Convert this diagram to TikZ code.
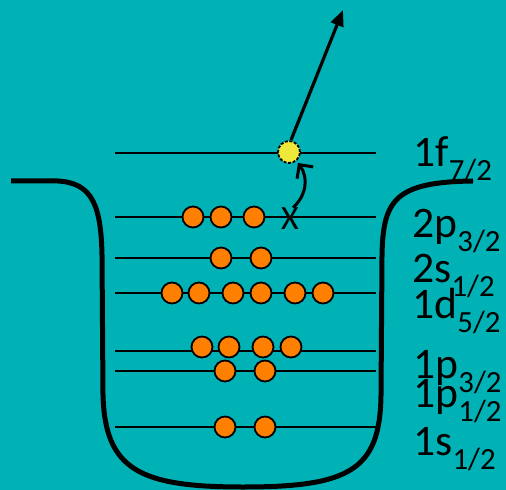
\documentclass[tikz,border=0pt]{standalone}
\usepackage{fontspec}
\setmainfont{Carlito}
\usetikzlibrary{arrows.meta}
\definecolor{bgteal}{RGB}{0,178,181}
\definecolor{orb}{RGB}{255,128,0}
\definecolor{hole}{RGB}{238,232,58}
\newcommand\lvlab[2]{\fontsize{21.8}{22}\selectfont #1\raisebox{-7pt}{\fontsize{15.4}{16}\selectfont #2}}
\begin{document}
\begin{tikzpicture}[x=0.5pt,y=-0.5pt,
  nucl/.style={circle,draw=black,line width=0.9pt,fill=orb,minimum size=10.5pt,inner sep=0pt},
  holenode/.style={circle,draw=black,dashed,dash pattern=on 1.5pt off 0.8pt,line width=0.9pt,fill=hole,minimum size=11pt,inner sep=0pt},
  level/.style={line width=1.1pt,black},
  lab/.style={anchor=base west,inner sep=0pt,text=black},
  well/.style={line width=2.5pt,black}]
\useasboundingbox[fill=bgteal] (0,0) rectangle (506,490);
% well
\draw[well] (11,181) -- (58,181) .. controls (92,183) and (101,205) .. (102,255) -- (103,395)
  .. controls (105,470) and (140,487) .. (243,487) .. controls (350,487) and (380,470) .. (381,395)
  -- (382,255) .. controls (383,200) and (395,182) .. (473,181);
% level lines
\foreach \n/\y in {f/153,p3/217,s2/258,d/293,pa/351,pb/371,s1/427}{
  \coordinate (L\n) at (115,\y);
  \coordinate (R\n) at (376,\y);
  \draw[level] (L\n) -- (R\n);
}
% nucleons
\foreach \i/\x in {1/193,2/221,3/254}{\node[nucl] (p3\i) at (\x,217) {};}
\foreach \i/\x in {1/221,2/261}{\node[nucl] (s2\i) at (\x,258) {};}
\foreach \i/\x in {1/172,2/199,3/233,4/261,5/295,6/323}{\node[nucl] (d\i) at (\x,293) {};}
\foreach \i/\x in {1/202,2/229,3/263,4/291}{\node[nucl] (pa\i) at (\x,347) {};}
\foreach \i/\x in {1/225,2/265}{\node[nucl] (pb\i) at (\x,371) {};}
\foreach \i/\x in {1/225,2/265}{\node[nucl] (s1\i) at (\x,427) {};}
% hole / emitted
\node[holenode] (yel) at (289,152) {};
\node[inner sep=0pt,font=\fontsize{17}{17}\selectfont] (xx) at (290,219) {X};
\coordinate (tip) at (343,10);
\coordinate (cend) at (298,163);
\draw[line width=1.6pt,-{Triangle[length=8pt,width=6.5pt]}] (yel.north) ++(2,0) coordinate (ys) (ys) -- (tip);
\draw[line width=1.5pt,-{Straight Barb[length=5pt,width=10pt,line width=1.5pt]}] (xx.north) ++(3,0) coordinate (xs) (xs) .. controls (306,196) and (309,178) .. (cend);
% labels
\node[lab] (l1) at (413,167) {\lvlab{1f}{7/2}};
\node[lab] (l2) at (412,238) {\lvlab{2p}{3/2}};
\node[lab] (l3) at (412,283) {\lvlab{2s}{1/2}};
\node[lab] (l4) at (412,318) {\lvlab{1d}{5/2}};
\node[lab] (l5) at (413,378) {\lvlab{1p}{3/2}};
\node[lab] (l6) at (413,407) {\lvlab{1p}{1/2}};
\node[lab] (l7) at (413,455) {\lvlab{1s}{1/2}};
\end{tikzpicture}
\end{document}
